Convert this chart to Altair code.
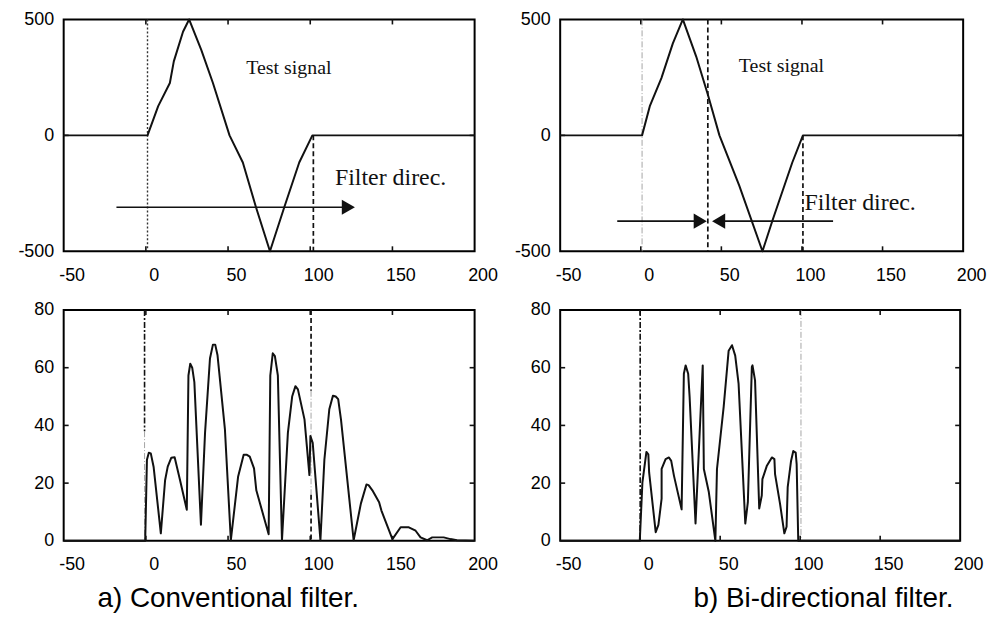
import altair as alt
import pandas as pd

SANS = "Liberation Sans, Arial, Helvetica, sans-serif"
SERIF = "Liberation Serif, Times New Roman, serif"
INK = "#111111"

# ---------------- data ----------------
x_ticks = [-50, 0, 50, 100, 150, 200]
x_inner_ticks = [0, 50, 100, 150]

# test signal, conventional (top-left)
tl_x = [-50, 1.0, 7.5, 14.6, 17.0, 22.6, 26.3, 33.7, 40.8, 50.9, 59.0, 67.0, 75.5, 84.2, 93.3, 101.3, 200]
tl_y = [0, 0, 126, 226, 319, 447, 500, 369, 226, 0, -117, -310, -500, -310, -117, 0, 0]

# test signal, bi-directional (top-right)
tr_x = [-50, 0.8, 5.6, 12.8, 19.9, 26.1, 34.4, 41.6, 48.8, 61.1, 75.5, 81.7, 94.0, 100.6, 200]
tr_y = [0, 0, 126, 247, 397, 500, 340, 176, 0, -217, -500, -367, -117, 0, 0]

# conventional filter output (bottom-left)
bl_x = [-50, -0.4, 0.65, 1.8, 3.0, 4.7, 9.1, 11.7, 13.3, 15.5, 17.5, 20.8, 24.9, 25.9, 27.0, 28.2,
        29.5, 33.5, 36.0, 39.0, 40.8, 42.2, 43.6, 48.1, 51.7, 56.1, 59.5, 61.5, 63.2, 65.8, 67.2,
        74.7, 75.7, 77.2, 78.5, 80.3, 82.8, 86.4, 89.0, 91.0, 92.5, 96.5, 99.5, 100.1, 101.5, 106.2,
        108.6, 111.6, 113.8, 115.5, 117.0, 118.7, 126.4, 130.8, 134.2, 135.5, 137.8, 141.9, 143.3,
        150.0, 155.0, 160.0, 164.1, 167.1, 171.1, 174.2, 181.2, 185.3, 189.3, 200]
bl_y = [0, 0, 28.1, 30.5, 30.3, 25.7, 2.6, 21.0, 25.7, 28.8, 29.0, 21.0, 10.8, 57.3, 61.4, 60.0,
        55.0, 5.6, 37.4, 63.2, 68.0, 68.0, 64.3, 38.6, 0.2, 22.2, 29.8, 29.8, 29.2, 25.1, 17.5,
        2.3, 57.3, 65.0, 64.0, 57.3, 0.2, 37.4, 50.0, 53.6, 52.5, 42.1, 22.8, 36.3, 34.0, 0.2,
        28.1, 45.6, 50.3, 50.0, 49.1, 42.1, 0.2, 12.9, 19.5, 19.3, 17.5, 13.4, 10.5,
        0.6, 4.7, 4.7, 3.5, 1.2, 0.2, 1.2, 1.2, 0.6, 0.2, 0]

# bi-directional filter output (bottom-right)
br_x = [-50, -0.25, 1.4, 3.9, 5.1, 5.6, 9.7, 11.4, 13.4, 13.4, 15.9, 18.0, 19.4, 21.1, 25.9, 27.3,
        28.4, 30.0, 30.9, 34.6, 39.1, 39.8, 42.9, 47.0, 48.0, 52.2, 55.3, 57.4, 59.4, 61.5, 65.7,
        67.3, 69.8, 70.2, 71.8, 74.4, 76.0, 76.4, 79.1, 82.3, 83.9, 84.3, 87.4, 90.1, 91.5, 92.2,
        94.3, 95.7, 97.2, 97.8, 98.8, 200]
br_y = [0, 0, 20.3, 30.8, 30.0, 23.7, 3.0, 5.5, 14.6, 24.9, 28.3, 28.9, 27.7, 22.6, 10.9, 57.9,
        60.8, 57.9, 49.9, 6.0, 60.8, 24.9, 16.9, 0, 24.9, 46.5, 65.9, 67.8, 64.2, 54.5, 6.0,
        13.4, 60.3, 60.8, 55.6, 11.2, 15.7, 21.4, 25.9, 28.9, 28.3, 23.1, 12.9, 2.6, 4.9, 18.6,
        27.7, 31.1, 30.6, 26.6, 0, 0]

# vertical marker lines: x, top, bottom, style
tl_vx, tl_vtop, tl_vbot, tl_vsty = [1.0, 101.9], [500, 0], [-500, -500], ["dot", "dash"]
tr_vx, tr_vtop, tr_vbot, tr_vsty = [0.8, 41.6, 100.6], [500, 500, 0], [-500, -500, -500], ["gray", "dash", "dash"]
bl_vx = [-0.8, -0.8, 100.5, 100.5, 100.5]
bl_vtop = [80, 38, 80, 52, 16]
bl_vbot = [38, 0, 52, 16, 0]
bl_vsty = ["dashdot", "gray", "dash", "gray", "dash"]
br_vx, br_vtop, br_vbot, br_vsty = [0.0, 100.5], [80, 80], [0, 0], ["dashdot", "gray"]

# arrows: shaft start, head position, y, head direction
tl_ax0, tl_ax1, tl_ay, tl_adir = [-17.9], [123.2], [-310], ["triangle-right"]
tr_ax0, tr_ax1, tr_ay, tr_adir = [-14.6, 119.3], [36.9, 48.3], [-370, -370], ["triangle-right", "triangle-left"]

# annotations
tl_tx, tl_ty, tl_tt, tl_ts = [87.0, 148.9], [289, -183], ["Test signal", "Filter direc."], [20, 24]
tr_tx, tr_ty, tr_tt, tr_ts = [87.3, 136.1], [297, -294], ["Test signal", "Filter direc."], [20, 24]

STYLES = {
    "dash": dict(color=INK, strokeWidth=1.7, strokeDash=[5, 3]),
    "dashdot": dict(color=INK, strokeWidth=1.6, strokeDash=[6, 2, 2, 2]),
    "dot": dict(color="#333333", strokeWidth=1.4, strokeDash=[2, 2]),
    "gray": dict(color="#9a9a9a", strokeWidth=0.9, strokeDash=[6, 2, 1, 2]),
}

MINUS_FIX = "datum.value < 0 ? '-' + abs(datum.value) : '' + datum.value"


def panel(cx, cy, ydom, yticks, W, H, vx, vtop, vbot, vsty,
          arrows=None, texts=None, caption=None, cap_dx=0):
    xs = alt.Scale(domain=[-50, 200], nice=False, zero=False)
    ys = alt.Scale(domain=ydom, nice=False, zero=False)
    xax = alt.Axis(values=x_ticks, ticks=False, domain=False, grid=False, labelFlush=False,
                   labelOverlap=False, labelPadding=15, labelOffset=8, labelFont=SANS,
                   labelFontSize=18, labelColor="#000", labelExpr=MINUS_FIX, title=None)
    yax = alt.Axis(values=yticks, ticks=False, domain=False, grid=False, labelFlush=False,
                   labelOverlap=False, labelPadding=10, labelFont=SANS, labelFontSize=18,
                   labelColor="#000", labelExpr=MINUS_FIX, title=None)
    X = lambda f="x": alt.X(f"{f}:Q", scale=xs, axis=xax)
    Y = lambda f="y": alt.Y(f"{f}:Q", scale=ys, axis=yax)

    layers = []
    # vertical marker lines
    for x, t, b, s in zip(vx, vtop, vbot, vsty):
        d = pd.DataFrame({"x": [x], "y": [t], "y2": [b]})
        layers.append(alt.Chart(d).mark_rule(**STYLES[s]).encode(x=X(), y=Y(), y2="y2:Q"))

    # curve
    cdf = pd.DataFrame({"x": cx, "y": cy, "i": list(range(len(cx)))})
    layers.append(alt.Chart(cdf).mark_line(color=INK, strokeWidth=2, strokeJoin="round")
                  .encode(x=X(), y=Y(), order=alt.Order("i:Q")))

    # inward ticks on all four sides
    xt = pd.DataFrame({"x": x_inner_ticks})
    layers.append(alt.Chart(xt).mark_rule(color=INK, strokeWidth=1.6)
                  .encode(x=X(), y=alt.value(0), y2=alt.value(5)))
    layers.append(alt.Chart(xt).mark_rule(color=INK, strokeWidth=1.6)
                  .encode(x=X(), y=alt.value(H), y2=alt.value(H - 5)))
    yt = pd.DataFrame({"y": yticks[1:-1]})
    layers.append(alt.Chart(yt).mark_rule(color=INK, strokeWidth=1.6)
                  .encode(y=Y(), x=alt.value(0), x2=alt.value(5)))
    layers.append(alt.Chart(yt).mark_rule(color=INK, strokeWidth=1.6)
                  .encode(y=Y(), x=alt.value(W), x2=alt.value(W - 5)))

    if arrows:
        ax0, ax1, ay, adir = arrows
        ad = pd.DataFrame({"x": ax0, "x2": ax1, "y": ay})
        layers.append(alt.Chart(ad).mark_rule(color=INK, strokeWidth=1.7)
                      .encode(x=X(), x2="x2:Q", y=Y()))
        hd = pd.DataFrame({"x": ax1, "y": ay, "shape": adir})
        layers.append(alt.Chart(hd).mark_point(filled=True, color=INK, opacity=1, size=230)
                      .encode(x=X(), y=Y(), shape=alt.Shape("shape:N", scale=None)))
    if texts:
        tx, ty, tt, ts = texts
        for a, b, c, s in zip(tx, ty, tt, ts):
            d = pd.DataFrame({"x": [a], "y": [b], "t": [c]})
            layers.append(alt.Chart(d).mark_text(font=SERIF, fontSize=s, color=INK,
                                                 align="center", baseline="middle")
                          .encode(x=X(), y=Y(), text="t:N"))

    props = dict(width=W, height=H)
    if caption:
        props["title"] = alt.TitleParams(caption, orient="bottom", anchor="start", frame="group",
                                         font=SANS, fontSize=28, fontWeight="normal",
                                         color="#000", offset=12, dx=cap_dx)
    return alt.layer(*layers).properties(**props)


tl = panel(tl_x, tl_y, [-500, 500], [-500, 0, 500], 413, 233,
           tl_vx, tl_vtop, tl_vbot, tl_vsty,
           arrows=(tl_ax0, tl_ax1, tl_ay, tl_adir), texts=(tl_tx, tl_ty, tl_tt, tl_ts))
tr = panel(tr_x, tr_y, [-500, 500], [-500, 0, 500], 405, 233,
           tr_vx, tr_vtop, tr_vbot, tr_vsty,
           arrows=(tr_ax0, tr_ax1, tr_ay, tr_adir), texts=(tr_tx, tr_ty, tr_tt, tr_ts))
bl = panel(bl_x, bl_y, [0, 80], [0, 20, 40, 60, 80], 413, 232,
           bl_vx, bl_vtop, bl_vbot, bl_vsty, caption="a) Conventional filter.", cap_dx=34)
br = panel(br_x, br_y, [0, 80], [0, 20, 40, 60, 80], 402, 232,
           br_vx, br_vtop, br_vbot, br_vsty, caption="b) Bi-directional filter.", cap_dx=134)

chart = (
    alt.concat(tl, tr, bl, br, columns=2, spacing={"row": 59, "column": 86}, bounds="flush")
    .properties(padding={"left": 16, "top": 8, "right": 5, "bottom": 2}, background="white")
    .configure_view(stroke="#000000", strokeWidth=2)
)

chart.save("out.html", embed_options={"renderer": "svg", "actions": False})
